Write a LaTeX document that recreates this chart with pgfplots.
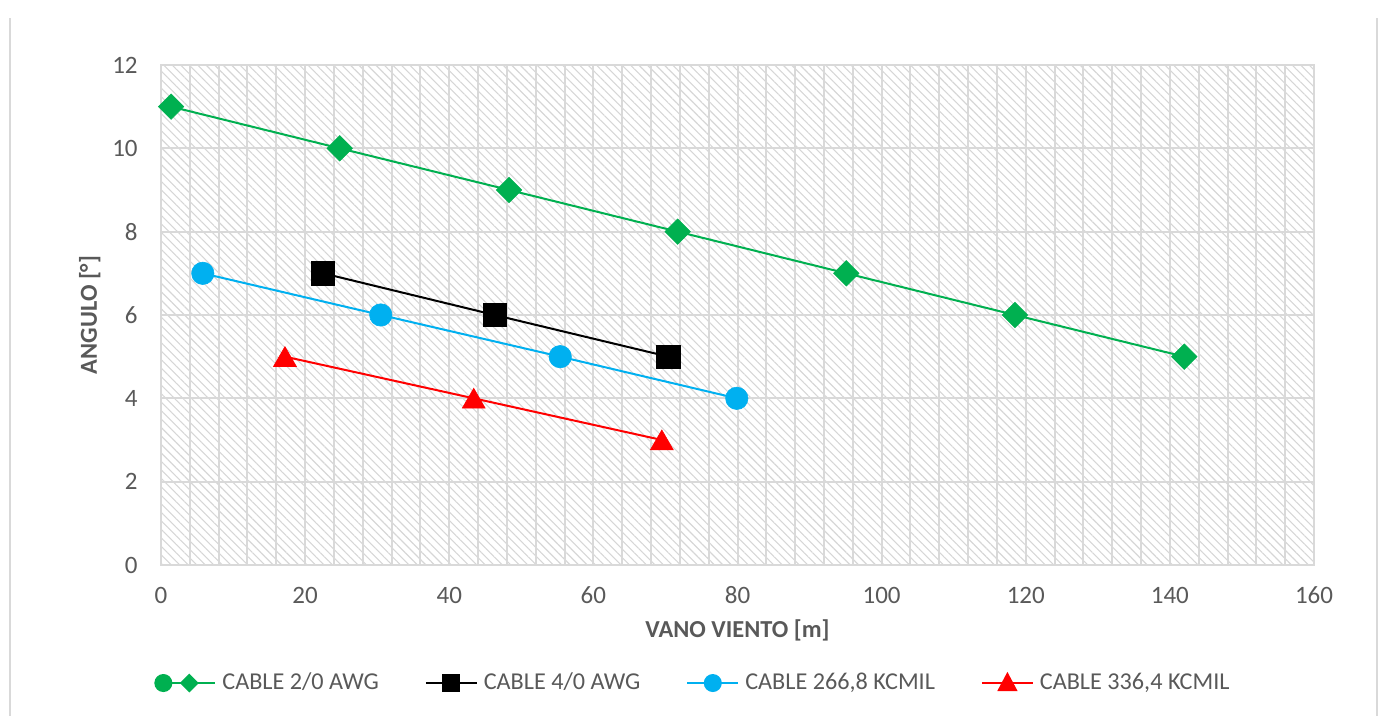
\documentclass[border=0pt]{standalone}
\usepackage{fontspec}
\setmainfont{Carlito}
\usepackage{pgfplots}
\pgfplotsset{compat=1.18}
\usetikzlibrary{patterns.meta}
\definecolor{gridgray}{HTML}{D9D9D9}
\definecolor{hatchgray}{HTML}{D6D6D6}
\definecolor{txtgray}{HTML}{595959}
\definecolor{cgreen}{HTML}{00B050}
\definecolor{cblue}{HTML}{00B0F0}
\definecolor{cred}{HTML}{FF0000}
\begin{document}
\begin{tikzpicture}
\path[use as bounding box] (0,0) rectangle (691.5pt,358pt);
\draw[gridgray, line width=1pt] (5pt,0) -- (5pt,349pt);
\draw[gridgray, line width=1pt] (688.5pt,0) -- (688.5pt,349pt);
\begin{axis}[
  at={(80.5pt,75.5pt)}, anchor=south west,
  scale only axis, width=576.5pt, height=250pt,
  xmin=0, xmax=160, ymin=0, ymax=12,
  xtick={0,20,...,160}, ytick={0,2,...,12},
  minor x tick num=4,
  grid=both,
  major grid style={gridgray, line width=1pt},
  minor grid style={gridgray, line width=1pt},
  axis line style={gridgray, line width=1pt},
  major tick length=0pt, minor tick length=0pt,
  tick style={draw=none},
  axis background/.style={pattern={Lines[angle=-45,distance=3pt,line width=0.55pt]}, pattern color=hatchgray},
  /pgf/number format/assume math mode=true,
  ticklabel style={font=\fontsize{12.5}{15}\selectfont, text=txtgray},
  xticklabel style={anchor=center, inner sep=0pt, yshift=-15pt},
  yticklabel style={anchor=east, inner sep=0pt, xshift=-11.5pt},
  xlabel={VANO VIENTO [m]},
  ylabel={ANGULO [°]},
  label style={font=\fontsize{12.2}{14}\selectfont\bfseries, text=txtgray},
  xlabel style={at={(axis description cs:0.5,0)}, anchor=base, inner sep=0pt, yshift=-36.5pt},
  ylabel style={at={(axis description cs:0,0.5)}, anchor=base, inner sep=0pt, yshift=32pt},
  clip=false,
  legend columns=4,
  legend style={at={(0.4605,-0.236)}, anchor=center, draw=none, fill=none, inner sep=0pt,
    font=\fontsize{12.1}{15}\selectfont,
    nodes={text=txtgray, inner sep=0pt},
    /tikz/every odd column/.append style={column sep=3pt},
    /tikz/every even column/.append style={column sep=23pt}},
]
\addplot[cgreen, line width=1pt, mark=square*, mark size=4.5pt, mark options={rotate=45, line width=0.3pt},
  legend image code/.code={
    \draw[mark=none] (0pt,0pt) -- (26pt,0pt);
    \fill (0pt,0pt) circle (4pt);
    \fill (13pt,-4pt) -- (17pt,0pt) -- (13pt,4pt) -- (9pt,0pt) -- cycle;}]
  coordinates {(1.4,11) (24.8,10) (48.3,9) (71.7,8) (95.1,7) (118.5,6) (142,5)};
\addlegendentry{CABLE 2/0 AWG}
\addplot[black, line width=1pt, mark=square*, mark size=5.8pt, mark options={line width=0.3pt},
  legend image code/.code={
    \draw[mark=none] (0pt,0pt) -- (25.5pt,0pt);
    \fill (8.75pt,-4pt) rectangle (16.75pt,4pt);}]
  coordinates {(22.5,7) (46.3,6) (70.4,5)};
\addlegendentry{CABLE 4/0 AWG}
\addplot[cblue, line width=1pt, mark=*, mark size=5.6pt, mark options={line width=0.3pt},
  legend image code/.code={
    \draw[mark=none] (0pt,0pt) -- (25.5pt,0pt);
    \fill (12.75pt,0pt) circle (4pt);}]
  coordinates {(5.8,7) (30.5,6) (55.4,5) (79.9,4)};
\addlegendentry{CABLE 266,8 KCMIL}
\addplot[cred, line width=1pt, mark=triangle*, mark size=6.6pt, mark options={line width=0.3pt, yshift=-1.6pt},
  legend image code/.code={
    \draw[mark=none] (0pt,0pt) -- (25.5pt,0pt);
    \fill (8.5pt,-3.5pt) -- (17pt,-3.5pt) -- (12.75pt,4.5pt) -- cycle;}]
  coordinates {(17.2,5) (43.4,4) (69.5,3)};
\addlegendentry{CABLE 336,4 KCMIL}
\end{axis}
\end{tikzpicture}
\end{document}
